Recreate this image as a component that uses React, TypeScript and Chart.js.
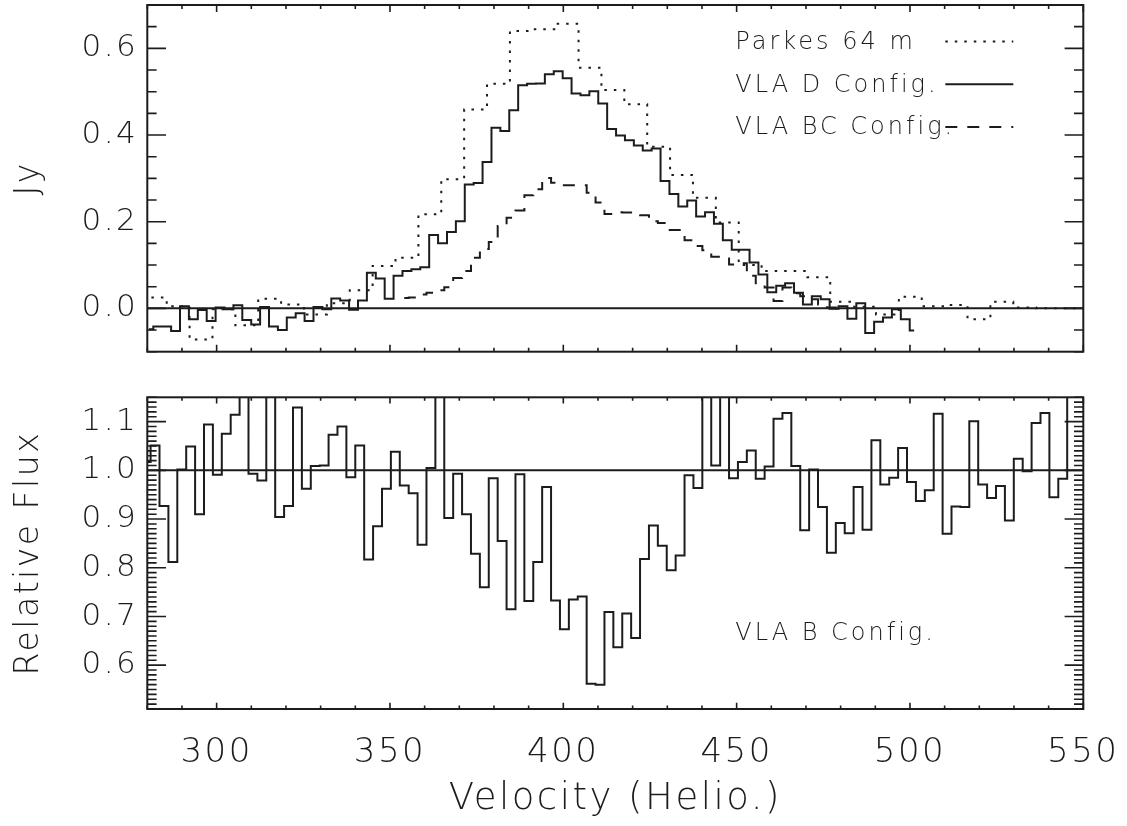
import React, { useEffect, useRef } from "react";
import { Chart, registerables } from "chart.js";

Chart.register(...registerables);

// ---------- data (velocities in km/s, channel centres) ----------
const xMin = 280;
const xMax = 550;
const xTickLabels = [300, 350, 400, 450, 500, 550];

const jyMin = -0.1;
const jyMax = 0.7;
const jyTicks = [0.0, 0.2, 0.4, 0.6];

const relMin = 0.51;
const relMax = 1.15;
const relTicks = [0.6, 0.7, 0.8, 0.9, 1.0, 1.1];

// Parkes 64 m spectrum
const parkesStart = 275.7;
const parkesWidth = 6.6;
const parkesFlux = [
  0.025, 0.025, 0.005, -0.072, -0.002, -0.039, 0.022, 0.009, -0.014, 0.012,
  0.042, 0.098, 0.117, 0.217, 0.298, 0.459, 0.518, 0.64, 0.644, 0.657,
  0.555, 0.504, 0.471, 0.373, 0.308, 0.255, 0.198, 0.1, 0.086, 0.086,
  0.072, 0.015, 0.004, -0.014, 0.027, 0.005, 0.008, -0.025, 0.015, 0.002,
  0.0, 0.0, 0.0,
];

// VLA D configuration spectrum
const vlaDStart = 280.45;
const vlaDWidth = 2.567;
const vlaDFlux = [
  -0.048, -0.042, -0.042, -0.052, 0.005, -0.025, -0.004, -0.029, 0.002, -0.002,
  0.007, -0.027, -0.037, 0.003, -0.042, -0.05, -0.021, -0.011, -0.029, 0.003,
  -0.002, 0.023, 0.018, -0.003, 0.018, 0.082, 0.069, 0.022, 0.075, 0.086,
  0.09, 0.095, 0.169, 0.15, 0.176, 0.201, 0.286, 0.289, 0.338, 0.417,
  0.409, 0.457, 0.515, 0.518, 0.519, 0.54, 0.547, 0.531, 0.496, 0.492,
  0.501, 0.473, 0.414, 0.399, 0.388, 0.376, 0.364, 0.369, 0.294, 0.264,
  0.235, 0.249, 0.212, 0.222, 0.195, 0.157, 0.135, 0.135, 0.106, 0.078,
  0.037, 0.052, 0.058, 0.036, 0.009, 0.028, 0.021, -0.001, 0.005, -0.024,
  0.012, -0.057, -0.031, -0.021, -0.002, -0.025, -0.051,
];

// VLA BC configuration spectrum
const vlaBCStart = 354.12;
const vlaBCWidth = 2.567;
const vlaBCFlux = [
  0.024, 0.025, 0.032, 0.036, 0.042, 0.049, 0.07, 0.086, 0.117, 0.137,
  0.153, 0.19, 0.209, 0.226, 0.261, 0.275, 0.301, 0.29, 0.284, 0.284,
  0.284, 0.267, 0.244, 0.218, 0.222, 0.221, 0.221, 0.215, 0.201, 0.197,
  0.181, 0.181, 0.157, 0.144, 0.134, 0.119, 0.115, 0.101, 0.104, 0.075,
  0.055, 0.048, 0.017, 0.048, 0.035, 0.028, 0.021, 0.009, 0.002, 0.0,
];

// VLA B configuration relative flux
const ratioStart = 279.67;
const ratioWidth = 2.567;
const relativeFlux = [
  1.017, 1.051, 0.927, 0.812, 1.002, 1.049, 0.91, 1.094, 0.991, 1.075,
  1.114, 1.3, 0.993, 0.979, 1.3, 0.904, 0.927, 1.129, 0.962, 1.009,
  1.01, 1.073, 1.09, 0.986, 1.051, 0.817, 0.885, 0.962, 1.038, 0.969,
  0.953, 0.847, 1.005, 1.3, 0.902, 0.993, 0.91, 0.829, 0.76, 0.984,
  0.855, 0.715, 0.992, 0.732, 0.812, 0.966, 0.733, 0.674, 0.735, 0.741,
  0.562, 0.56, 0.709, 0.637, 0.706, 0.656, 0.818, 0.887, 0.845, 0.795,
  0.825, 0.99, 0.964, 1.3, 1.01, 1.3, 0.984, 1.017, 1.041, 0.983,
  1.008, 1.106, 1.118, 1.009, 0.877, 1.002, 0.925, 0.831, 0.892, 0.871,
  0.966, 0.878, 1.062, 0.971, 0.985, 1.046, 0.976, 0.937, 0.959, 1.116,
  0.87, 0.926, 0.925, 1.101, 0.971, 0.943, 0.968, 0.897, 1.024, 0.998,
  1.097, 1.118, 0.945, 0.983, 1.3, 1.3,
];

const legendLabels = ["Parkes 64 m", "VLA D Config.", "VLA BC Config."];
const bottomLabel = "VLA B Config.";
const xTitle = "Velocity (Helio.)";
const topYTitle = "Jy";
const bottomYTitle = "Relative Flux";

// ---------- helpers ----------
const FONT = '"DejaVu Sans", "Liberation Sans", sans-serif';
const INK = "#1c1c1c";
const SPACING = "2.5px";

const toPoints = (start: number, width: number, values: number[]) =>
  values.map((y, i) => ({ x: start + i * width, y }));

const lineSet = (data: any[], dash: number[] = []) => ({
  data,
  borderColor: INK,
  borderWidth: 2,
  borderDash: dash,
  pointRadius: 0,
  stepped: "middle" as const,
  fill: false,
  tension: 0,
});

const noPad = (s: any) => {
  s.paddingTop = 0;
  s.paddingBottom = 0;
  s.paddingLeft = 0;
  s.paddingRight = 0;
};

function framePlugin(cfg: {
  xStep: number;
  xMajorEvery: number;
  yStep: number;
  yMajorEvery: number;
  xLen: [number, number];
  yLen: [number, number];
}) {
  return {
    id: "idlFrame",
    beforeDraw(chart: any) {
      chart.ctx.letterSpacing = SPACING;
    },
    afterDatasetsDraw(chart: any) {
      const { ctx, chartArea: a, scales } = chart;
      const xs = scales.x;
      const ys = scales.y;
      ctx.save();
      ctx.letterSpacing = "0px";
      ctx.strokeStyle = INK;
      ctx.lineWidth = 2;
      ctx.setLineDash([]);
      ctx.strokeRect(a.left, a.top, a.right - a.left, a.bottom - a.top);
      ctx.lineWidth = 1.6;
      ctx.beginPath();
      const nx0 = Math.ceil(xs.min / cfg.xStep - 1e-6);
      const nx1 = Math.floor(xs.max / cfg.xStep + 1e-6);
      for (let n = nx0; n <= nx1; n++) {
        const px = xs.getPixelForValue(n * cfg.xStep);
        const L = n % cfg.xMajorEvery === 0 ? cfg.xLen[0] : cfg.xLen[1];
        ctx.moveTo(px, a.bottom);
        ctx.lineTo(px, a.bottom - L);
        ctx.moveTo(px, a.top);
        ctx.lineTo(px, a.top + L);
      }
      const ny0 = Math.ceil(ys.min / cfg.yStep - 1e-6);
      const ny1 = Math.floor(ys.max / cfg.yStep + 1e-6);
      for (let n = ny0; n <= ny1; n++) {
        const py = ys.getPixelForValue(n * cfg.yStep);
        const L = n % cfg.yMajorEvery === 0 ? cfg.yLen[0] : cfg.yLen[1];
        ctx.moveTo(a.left, py);
        ctx.lineTo(a.left + L, py);
        ctx.moveTo(a.right, py);
        ctx.lineTo(a.right - L, py);
      }
      ctx.stroke();
      ctx.restore();
    },
  };
}

const topLegendPlugin = {
  id: "topLegend",
  afterDraw(chart: any) {
    const { ctx, chartArea: a } = chart;
    const dashes = [[2.5, 7], [], [12, 10]];
    ctx.save();
    ctx.letterSpacing = "3px";
    ctx.fillStyle = INK;
    ctx.strokeStyle = INK;
    ctx.lineWidth = 2;
    ctx.font = `200 24px ${FONT}`;
    ctx.textAlign = "left";
    ctx.textBaseline = "alphabetic";
    legendLabels.forEach((label, i) => {
      const baseY = a.top + 44 + i * 42.7;
      ctx.fillText(label, a.left + 588, baseY);
      ctx.setLineDash(dashes[i]);
      ctx.beginPath();
      ctx.moveTo(a.left + 798, baseY - 7.5);
      ctx.lineTo(a.left + 866, baseY - 7.5);
      ctx.stroke();
    });
    ctx.restore();
  },
};

const bottomLabelPlugin = {
  id: "bottomLabel",
  afterDraw(chart: any) {
    const { ctx, chartArea: a } = chart;
    ctx.save();
    ctx.letterSpacing = "3px";
    ctx.fillStyle = INK;
    ctx.font = `200 24px ${FONT}`;
    ctx.textAlign = "left";
    ctx.textBaseline = "alphabetic";
    ctx.fillText(bottomLabel, a.left + 588, a.top + 243);
    ctx.restore();
  },
};

const W = 1127;
const H = 826;
const PLOT_LEFT = 147.3;
const PLOT_RIGHT = 1083.3;

export default function App() {
  const topRef = useRef<HTMLCanvasElement | null>(null);
  const botRef = useRef<HTMLCanvasElement | null>(null);

  useEffect(() => {
    const tickFont = { family: FONT, size: 31, weight: "200" as any };
    const titleFont = { family: FONT, size: 33, weight: "200" as any };

    const topChart = new Chart(topRef.current as HTMLCanvasElement, {
      type: "line",
      data: {
        datasets: [
          lineSet([{ x: xMin, y: 0 }, { x: xMax, y: 0 }]),
          lineSet(toPoints(parkesStart, parkesWidth, parkesFlux), [2.5, 7]),
          lineSet(toPoints(vlaDStart, vlaDWidth, vlaDFlux)),
          lineSet(toPoints(vlaBCStart, vlaBCWidth, vlaBCFlux), [12, 10]),
        ],
      },
      options: {
        responsive: false,
        animation: false,
        devicePixelRatio: 1,
        events: [],
        layout: {
          autoPadding: false,
          padding: { left: 0, top: 5, right: W - PLOT_RIGHT, bottom: H - 351.7 },
        },
        plugins: { legend: { display: false }, tooltip: { enabled: false } },
        scales: {
          x: { type: "linear", min: xMin, max: xMax, display: false, afterFit: noPad },
          y: {
            type: "linear",
            min: jyMin,
            max: jyMax,
            position: "left",
            grid: { display: false, drawTicks: false },
            border: { display: false },
            afterBuildTicks: (s: any) => {
              s.ticks = jyTicks.map((value) => ({ value }));
            },
            afterFit: (s: any) => {
              s.width = PLOT_LEFT;
              noPad(s);
            },
            ticks: {
              padding: 9,
              color: INK,
              font: tickFont,
              callback: (v: any) => Number(v).toFixed(1),
            },
            title: {
              display: true,
              text: topYTitle,
              color: INK,
              font: titleFont,
              padding: { top: 10, bottom: 0 },
            },
          },
        },
      } as any,
      plugins: [
        framePlugin({ xStep: 10, xMajorEvery: 5, yStep: 0.05, yMajorEvery: 4, xLen: [7, 4], yLen: [18.7, 9.3] }),
        topLegendPlugin,
      ],
    });

    const botChart = new Chart(botRef.current as HTMLCanvasElement, {
      type: "line",
      data: {
        datasets: [
          lineSet([{ x: xMin, y: 1 }, { x: xMax, y: 1 }]),
          lineSet(toPoints(ratioStart, ratioWidth, relativeFlux)),
        ],
      },
      options: {
        responsive: false,
        animation: false,
        devicePixelRatio: 1,
        events: [],
        layout: {
          autoPadding: false,
          padding: { left: 0, top: 397.3, right: W - PLOT_RIGHT, bottom: 0 },
        },
        plugins: { legend: { display: false }, tooltip: { enabled: false } },
        scales: {
          x: {
            type: "linear",
            min: xMin,
            max: xMax,
            position: "bottom",
            grid: { display: false, drawTicks: false },
            border: { display: false },
            afterBuildTicks: (s: any) => {
              s.ticks = xTickLabels.map((value) => ({ value }));
            },
            afterFit: (s: any) => {
              s.height = H - 709;
              noPad(s);
            },
            ticks: {
              padding: 24,
              color: INK,
              maxRotation: 0,
              autoSkip: false,
              font: { family: FONT, size: 34, weight: "200" as any },
              callback: (v: any) => String(v),
            },
            title: {
              display: true,
              text: xTitle,
              color: INK,
              font: { family: FONT, size: 37, weight: "200" as any },
              padding: { top: 0, bottom: 4 },
            },
          },
          y: {
            type: "linear",
            min: relMin,
            max: relMax,
            position: "left",
            grid: { display: false, drawTicks: false },
            border: { display: false },
            afterBuildTicks: (s: any) => {
              s.ticks = relTicks.map((value) => ({ value }));
            },
            afterFit: (s: any) => {
              s.width = PLOT_LEFT;
              noPad(s);
            },
            ticks: {
              padding: 9,
              color: INK,
              font: tickFont,
              callback: (v: any) => Number(v).toFixed(1),
            },
            title: {
              display: true,
              text: bottomYTitle,
              color: INK,
              font: titleFont,
              padding: { top: 10, bottom: 0 },
            },
          },
        },
      } as any,
      plugins: [
        framePlugin({ xStep: 10, xMajorEvery: 5, yStep: 0.01, yMajorEvery: 10, xLen: [6.2, 3.5], yLen: [18.7, 9.3] }),
        bottomLabelPlugin,
      ],
    });

    return () => {
      topChart.destroy();
      botChart.destroy();
    };
  }, []);

  const canvasStyle: React.CSSProperties = { position: "absolute", left: 0, top: 0, width: W, height: H };
  return (
    <div style={{ position: "absolute", left: 0, top: 0, width: W, height: H, background: "#fff" }}>
      <canvas ref={topRef} width={W} height={H} style={canvasStyle} />
      <canvas ref={botRef} width={W} height={H} style={canvasStyle} />
    </div>
  );
}
